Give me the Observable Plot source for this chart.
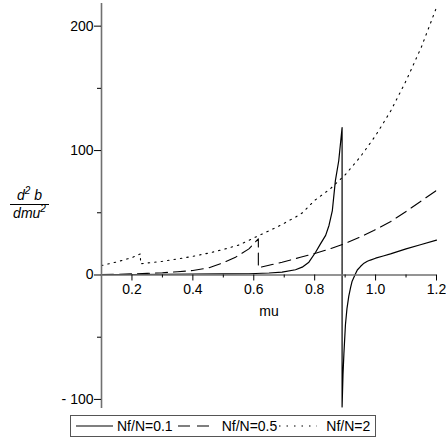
<!DOCTYPE html>
<html><head><meta charset="utf-8">
<script src="https://cdn.jsdelivr.net/npm/d3@7"></script>
<script src="https://cdn.jsdelivr.net/npm/@observablehq/plot@0.6"></script>
<style>
body{margin:0;background:#fff;font-family:"Liberation Sans",Arial,sans-serif;color:#000;}
#wrap{position:relative;width:446px;height:439px;overflow:hidden;}
#chart svg{display:block;}
#ylab{position:absolute;left:10px;top:187px;width:39px;font-style:italic;font-size:14px;text-align:center;line-height:16px;}
#ylab .num{border-bottom:1px solid #000;padding-bottom:1px;}
#ylab sup{font-size:10px;vertical-align:6px;line-height:0;}
#legend{position:absolute;left:70px;top:415px;height:20px;border:1px solid #555;display:flex;align-items:center;font-size:14px;padding:0 5px 0 5px;white-space:nowrap;}
#legend svg{display:block;}
</style></head>
<body><div id="wrap"><div id="chart"></div>
<div id="ylab"><div class="num">d<sup>2</sup> b</div><div>dmu<sup>2</sup></div></div>
<div id="legend"></div>
</div>
<script>
// ---- data ----
const seriesNames = ["Nf/N=0.1", "Nf/N=0.5", "Nf/N=2"];
const muA  = [0.1,0.2,0.3,0.4,0.5,0.584,0.65,0.693,0.737,0.759,0.781,0.803,0.819,0.836,0.847,0.858,0.868,0.879,0.89,
              0.89,0.893,0.896,0.901,0.906,0.912,0.918,0.923,0.934,0.94,0.951,0.962,0.973,0.983,1.0,1.025,1.049,1.1,1.15,1.2];
const valA = [0.3,0.4,0.6,0.8,0.9,1.0,1.6,2.3,4.2,6.3,10.3,18.3,25,31.8,39.8,51.8,75.8,91.8,118.5,
              -106,-80,-63,-40,-27,-17,-10,-5,1,4,7,9.5,11,12,13.5,15.3,17,21,24.5,28];
const muB  = [0.1,0.15,0.2,0.25,0.3,0.35,0.4,0.45,0.474,0.496,0.54,0.584,0.615,
              0.615,0.65,0.693,0.75,0.803,0.85,0.896,0.95,0.994,1.05,1.104,1.15,1.2];
const valB = [0.4,0.6,0.9,1.3,1.8,2.6,3.6,5.6,7.6,9.5,14.3,21,29,
              5.8,7.8,10.3,14,17.5,21,25,30.5,35.7,43,51.7,59.5,68];
const muC  = [0.1,0.15,0.2,0.228,
              0.228,0.245,0.3,0.353,0.4,0.45,0.5,0.55,0.617,0.68,0.737,0.76,0.8,0.85,0.9,0.95,1.0,1.05,1.1,1.15,1.2];
const valC = [7.6,10.5,14,17,
              9,9.5,11,13,15,17.5,20.5,24,31.7,39,46.5,50,60,69,80.5,95,112,132,156,183,215];
const xMajor = [0.2,0.4,0.6,0.8,1.0,1.2];
const xMinor = [0.3,0.5,0.7,0.9,1.1];
const yMajor = [-100,0,100,200];
const yMinor = [-50,50,150];
const xDomain = [0.1, 1.2];
const yDomain = [-107.3, 218.2];

// ---- layout ----
const W = 446, H = 412, mt = 3, mb = 4, ml = 101, mr = 10;
const y0px = mt + (yDomain[1] - 0) / (yDomain[1] - yDomain[0]) * (H - mt - mb);
const axisShift = y0px - (H - mb);
const axisColor = "#707070";

const rows = (mus, vals) => mus.map((m, i) => ({mu: m, v: vals[i]}));
const dataA = rows(muA, valA), dataB = rows(muB, valB), dataC = rows(muC, valC);
const dashes = ["none", "12,6", "1.5,5"];

const chart = Plot.plot({
  width: W, height: H,
  marginTop: mt, marginBottom: mb, marginLeft: ml, marginRight: mr,
  style: {fontFamily: '"Liberation Sans", Arial, sans-serif', fontSize: "14px", color: "#000", background: "#fff"},
  x: {domain: xDomain},
  y: {domain: yDomain},
  marks: [
    Plot.line(dataC, {x: "mu", y: "v", stroke: "#000", strokeWidth: 1.1, strokeDasharray: dashes[2]}),
    Plot.line(dataB, {x: "mu", y: "v", stroke: "#000", strokeWidth: 1.1, strokeDasharray: dashes[1]}),
    Plot.line(dataA, {x: "mu", y: "v", stroke: "#000", strokeWidth: 1.2}),
    Plot.ruleY([0], {stroke: axisColor, strokeWidth: 1.6}),
    Plot.ruleX([xDomain[0]], {stroke: axisColor, strokeWidth: 1.6}),
    Plot.axisX({anchor: "bottom", ticks: xMajor, tickSize: 6, tickPadding: 3, fontSize: 14, tickFormat: d3.format(".1f"), dy: axisShift, label: null, stroke: "#000"}),
    Plot.axisX({anchor: "bottom", ticks: xMinor, tickSize: 3, tickFormat: () => "", dy: axisShift, label: null}),
    Plot.text(["mu"], {x: (xDomain[0] + xDomain[1]) / 2, y: 0, dy: 37, fontSize: 14}),
    Plot.axisY({anchor: "left", ticks: yMajor, tickSize: 7, tickPadding: 1, fontSize: 14, tickFormat: d => d < 0 ? "- " + (-d) : String(d), label: null}),
    Plot.axisY({anchor: "left", ticks: yMinor, tickSize: 4, tickFormat: () => "", label: null})
  ]
});
document.getElementById("chart").appendChild(chart);

// ---- legend ----
const legend = document.getElementById("legend");
const gaps = [[0, 4], [5, 6], [2, 9]];
seriesNames.forEach((name, i) => {
  const s = d3.create("svg").attr("width", i === 0 ? 37 : 38).attr("height", 10)
    .style("margin-left", gaps[i][0] + "px").style("margin-right", gaps[i][1] + "px");
  s.append("line").attr("x1", 0).attr("x2", i === 0 ? 37 : 38).attr("y1", 5).attr("y2", 5)
    .attr("stroke", "#000").attr("stroke-width", 1.1)
    .attr("stroke-dasharray", i === 1 ? "12,7" : i === 2 ? "1.5,6" : null);
  legend.appendChild(s.node());
  const t = document.createElement("span");
  t.textContent = name;
  legend.appendChild(t);
});
</script>
</body></html>
